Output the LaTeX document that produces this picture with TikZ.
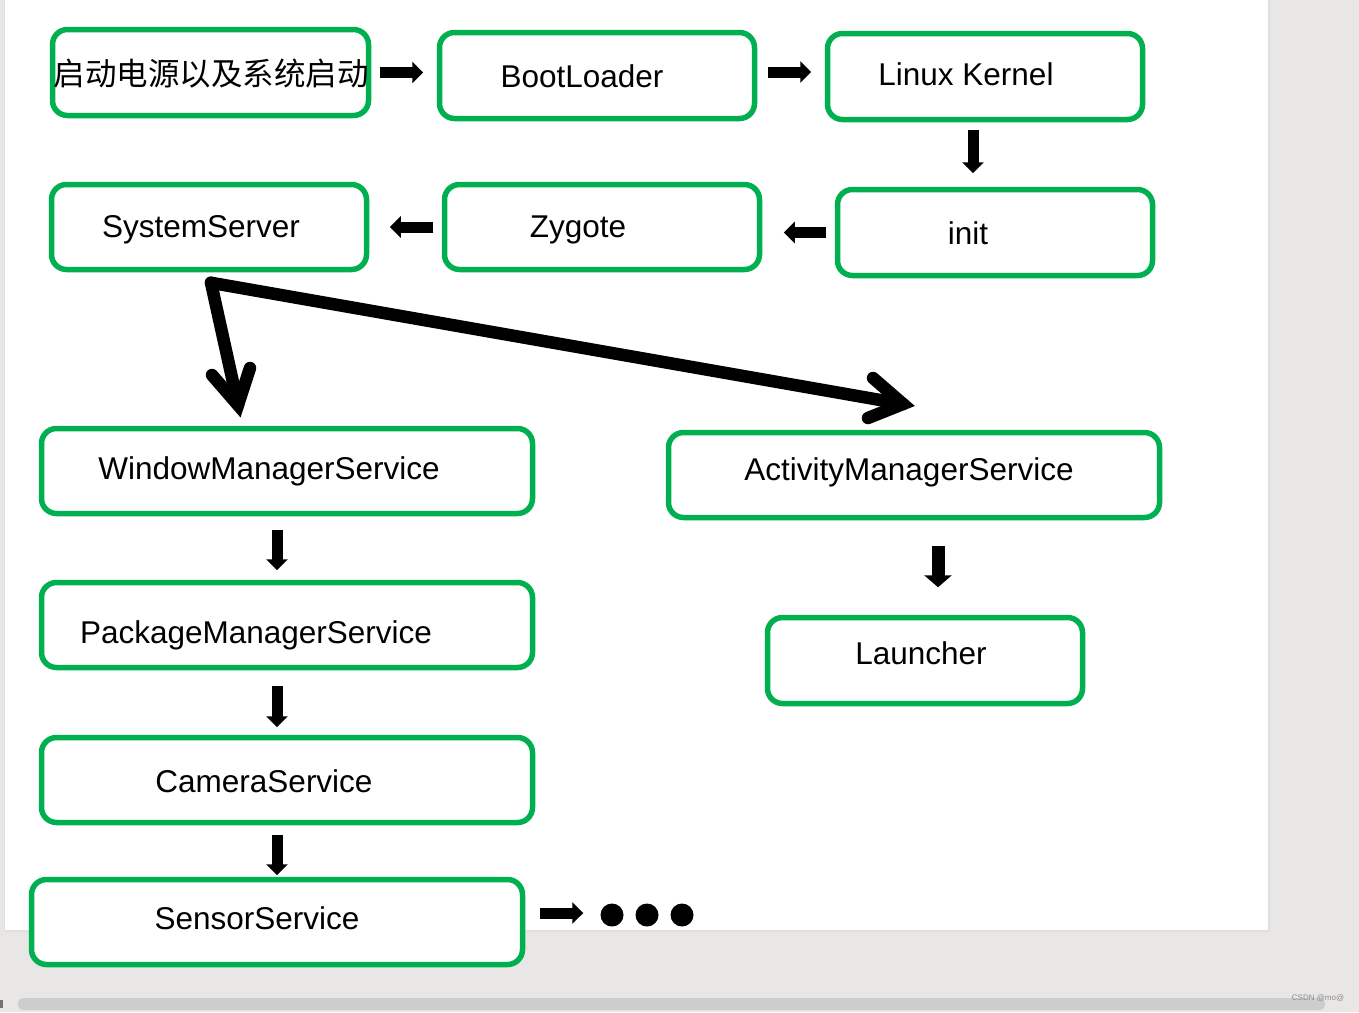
\documentclass[tikz,border=0pt]{standalone}
\usepackage{fontspec}
\setmainfont{Liberation Sans}
\newfontfamily\cjk{Noto Sans CJK SC}
\usetikzlibrary{arrows.meta,calc}
\definecolor{boxgreen}{HTML}{00B050}
\definecolor{bggray}{HTML}{E8E7E6}
\definecolor{barcol}{HTML}{CDCDCD}
\begin{document}
\begin{tikzpicture}[x=1pt,y=-1pt,
  box/.style={draw=boxgreen, line width=5.5pt, rounded corners=15pt, fill=white,
    minimum width=315pt, minimum height=86pt, inner sep=0pt},
  wide/.style={box, minimum width=491pt, minimum height=85pt},
  lbl/.style={font=\fontsize{31.5}{36}\selectfont, text height=22.5pt, text depth=0pt, inner sep=0pt},
  cjklbl/.style={font=\cjk\fontsize{31.5}{36}\selectfont, inner sep=0pt},
  blk/.style={line width=11pt, -{Triangle[length=11pt,width=21pt]}},
  fat/.style={line width=12.5pt, line cap=round, line join=miter},
  dot/.style={circle, fill=black, minimum size=23pt, inner sep=0pt}]
\useasboundingbox (0,0) rectangle (1359,1012);
% screen background
\fill[bggray] (0,0) rectangle (1359,1012);
\fill[black!12] (4,0) rectangle (1270,932);
\fill[white] (5,0) rectangle (1268,930);
\fill[barcol, rounded corners=5pt] (18,998) rectangle (1325,1010);
\fill[black!55] (0,1000) rectangle (3,1008);
\node[text=black!45, font=\fontsize{8}{9}\selectfont, inner sep=0pt] (wm) at (1318,998) {CSDN @mo@};
% boxes
\node[box, minimum width=316pt] (b1) at (210.5,72.5) {};
\node[cjklbl] (b1t) at ([shift={(0.5,1)}]b1.center) {启动电源以及系统启动};
\node[box, label={[lbl,shift={(-15,0.5)}]center:BootLoader}] (b2) at (597,75.5) {};
\node[box, label={[lbl,shift={(-19,-2.5)}]center:Linux Kernel}] (b3) at (985,76.5) {};
\node[box, label={[lbl,shift={(-27,0.5)}]center:init}] (in) at (995,232.5) {};
\node[box, minimum height=85pt, label={[lbl,shift={(-24,-1)}]center:Zygote}] (zy) at (602,227) {};
\node[box, minimum height=85pt, label={[lbl,shift={(-8,-1)}]center:SystemServer}] (ss) at (209,227) {};
\node[wide, label={[lbl,shift={(-18,-3)}]center:WindowManagerService}] (w) at (287,471) {};
\node[wide, label={[lbl,shift={(-5,-6)}]center:ActivityManagerService}] (a) at (914,475) {};
\node[wide, label={[lbl,shift={(-31,7)}]center:PackageManagerService}] (p) at (287,625) {};
\node[box, label={[lbl,shift={(-4,-7.5)}]center:Launcher}] (l) at (925,660.5) {};
\node[wide, label={[lbl,shift={(-23,1)}]center:CameraService}] (c) at (287,780) {};
\node[wide, label={[lbl,shift={(-20,-4)}]center:SensorService}] (s) at (277,922) {};
\node[dot] (d1) at (612,915) {};
\node[dot] (d2) at (647,915) {};
\node[dot] (d3) at (682,915) {};
% block arrows
\draw[blk, shorten <=8.5pt, shorten >=13.5pt] (b1.east) -- (b1.east -| b2.west);
\draw[blk, shorten <=10.5pt, shorten >=13.5pt] ([yshift=3.5pt]b2.east) -- ([yshift=3.5pt]b2.east -| b3.west);
\draw[blk, shorten <=7.5pt, shorten >=13.5pt] ([xshift=-12pt]b3.south) -- ([xshift=-12pt]b3.south |- in.north);
\draw[blk, shorten <=8.5pt, shorten >=21.5pt] (in.west) -- (in.west -| zy.east);
\draw[blk, shorten <=8.5pt, shorten >=20.5pt] (zy.west) -- (zy.west -| ss.east);
\draw[blk, shorten <=13.5pt, shorten >=9.5pt] ([xshift=-10pt]w.south) -- ([xshift=-10pt]w.south |- p.north);
\draw[blk, line width=13pt, -{Triangle[length=12pt,width=27pt]}, shorten <=25.5pt, shorten >=27.5pt] ([xshift=24pt]a.south) -- ([xshift=24pt]a.south |- l.north);
\draw[blk, shorten <=15.5pt, shorten >=7.5pt] ([xshift=-10pt]p.south) -- ([xshift=-10pt]p.south |- c.north);
\draw[blk, shorten <=9.5pt, shorten >=1.5pt] ([xshift=-10pt]c.south) -- ([xshift=-10pt]c.south |- s.north);
\draw[blk, shorten <=14.5pt, shorten >=17pt] ([yshift=9pt]s.east) -- ([yshift=9pt]s.east -| d1.west);
% fat arrows from SystemServer
\coordinate (wtip) at (238,405);
\coordinate (atip) at (903,404);
\draw[fat] ([shift={(2,10.5)}]ss.south) -- (wtip);
\draw[fat] ($(wtip)+(-26,-30)$) -- (wtip) -- ($(wtip)+(12,-37)$);
\draw[fat] ([shift={(2,10.5)}]ss.south) -- (atip);
\draw[fat] ($(atip)+(-30,-26)$) -- (atip) -- ($(atip)+(-35,14)$);
\end{tikzpicture}
\end{document}
